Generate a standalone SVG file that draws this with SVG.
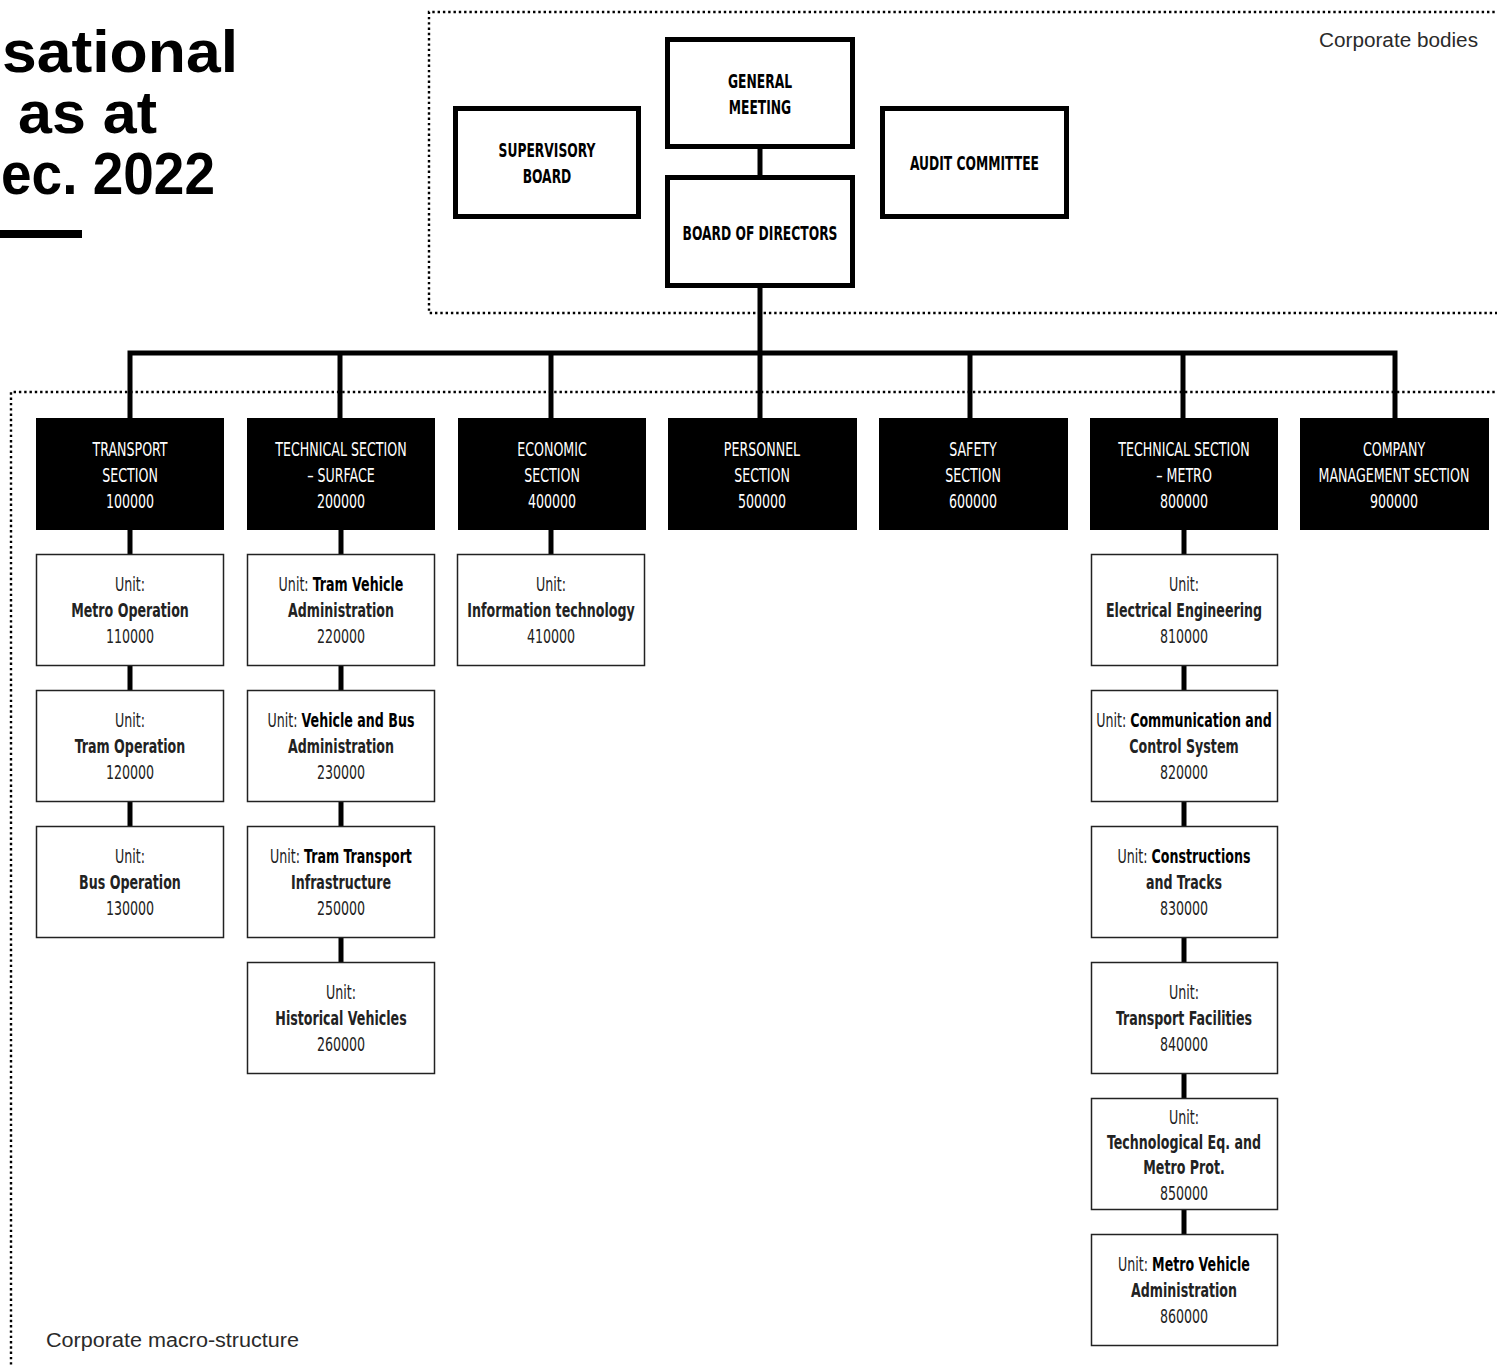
<svg xmlns="http://www.w3.org/2000/svg" width="1497" height="1365" viewBox="0 0 1497 1365">
<style>
  .dot { fill: none; stroke: #000; stroke-width: 2.4; stroke-dasharray: 2.4 2.9; }
  .body rect { fill: #fff; stroke: #000; stroke-width: 5; }
  .body text { font-family: "Liberation Sans Narrow", "DejaVu Sans Condensed", "Liberation Sans", sans-serif; font-weight: bold; font-size: 19px; fill: #000; text-anchor: middle; }
  .sec rect { fill: #000; }
  .sec text { font-family: "Liberation Sans Narrow", "DejaVu Sans Condensed", "Liberation Sans", sans-serif; font-size: 19px; fill: #fff; text-anchor: middle; }
  .unit rect { fill: #fff; stroke: #222; stroke-width: 1.5; }
  .unit text { font-family: "Liberation Sans Narrow", "DejaVu Sans Condensed", "Liberation Sans", sans-serif; font-size: 19px; fill: #222; text-anchor: middle; }
  .b { font-weight: bold; fill: #000; }
  .conn { fill: none; stroke: #000; stroke-width: 5; }
  .label { font-family: "Liberation Sans", sans-serif; font-size: 20px; fill: #2a2a2a; }
  .title { font-family: "Liberation Sans", sans-serif; font-weight: bold; font-size: 60px; fill: #000; }
</style>

<g id="title">
  <text class="title" x="2" y="72" textLength="236" lengthAdjust="spacingAndGlyphs">sational</text>
  <text class="title" x="18" y="133" textLength="139" lengthAdjust="spacingAndGlyphs">as at</text>
  <text class="title" x="1" y="194" textLength="214" lengthAdjust="spacingAndGlyphs">ec. 2022</text>
  <rect x="0" y="230" width="82" height="8" fill="#000"/>
</g>

<g id="areas">
  <path class="dot" d="M1500 12 H429 V313 H1500"/>
  <path class="dot" d="M1500 392 H11 V1370"/>
  <text class="label" x="1319" y="47" textLength="159" lengthAdjust="spacingAndGlyphs">Corporate bodies</text>
  <text class="label" x="46" y="1347" textLength="253" lengthAdjust="spacingAndGlyphs">Corporate macro-structure</text>
</g>

<g id="connectors">
  <path class="conn" d="M760 148 V175"/>
  <path class="conn" d="M760 288 V418"/>
  <path class="conn" d="M130 418 V353 H1395 V418"/>
  <path class="conn" d="M340 353 V418"/>
  <path class="conn" d="M551 353 V418"/>
  <path class="conn" d="M970 353 V418"/>
  <path class="conn" d="M1183 353 V418"/>
  <path class="conn" d="M130 530 V554 M130 666 V690 M130 802 V826"/>
  <path class="conn" d="M341 530 V554 M341 666 V690 M341 802 V826 M341 938 V962"/>
  <path class="conn" d="M551 530 V554"/>
  <path class="conn" d="M1184 530 V554 M1184 666 V690 M1184 802 V826 M1184 938 V962 M1184 1074 V1098 M1184 1210 V1234"/>
</g>

<g id="general-meeting" class="body">
  <rect x="667.5" y="39.5" width="185" height="107"/>
  <text transform="translate(760 88) scale(0.72 1)">GENERAL</text>
  <text transform="translate(760 114) scale(0.72 1)">MEETING</text>
</g>
<g id="supervisory-board" class="body">
  <rect x="455.5" y="108.5" width="183" height="108"/>
  <text transform="translate(547 157) scale(0.72 1)">SUPERVISORY</text>
  <text transform="translate(547 183) scale(0.72 1)">BOARD</text>
</g>
<g id="audit-committee" class="body">
  <rect x="882.5" y="108.5" width="184" height="108"/>
  <text transform="translate(974.5 170) scale(0.72 1)">AUDIT COMMITTEE</text>
</g>
<g id="board-of-directors" class="body">
  <rect x="667.5" y="177.5" width="185" height="108"/>
  <text transform="translate(760 240) scale(0.72 1)">BOARD OF DIRECTORS</text>
</g>

<g id="sec-transport" class="sec">
  <rect x="36" y="418" width="188" height="112"/>
  <text transform="translate(130 456) scale(0.74 1)">TRANSPORT</text>
  <text transform="translate(130 482) scale(0.74 1)">SECTION</text>
  <text transform="translate(130 508) scale(0.74 1)">100000</text>
</g>
<g id="sec-technical-surface" class="sec">
  <rect x="247" y="418" width="188" height="112"/>
  <text transform="translate(341 456) scale(0.74 1)">TECHNICAL SECTION</text>
  <text transform="translate(341 482) scale(0.74 1)">– SURFACE</text>
  <text transform="translate(341 508) scale(0.74 1)">200000</text>
</g>
<g id="sec-economic" class="sec">
  <rect x="458" y="418" width="188" height="112"/>
  <text transform="translate(552 456) scale(0.74 1)">ECONOMIC</text>
  <text transform="translate(552 482) scale(0.74 1)">SECTION</text>
  <text transform="translate(552 508) scale(0.74 1)">400000</text>
</g>
<g id="sec-personnel" class="sec">
  <rect x="668" y="418" width="189" height="112"/>
  <text transform="translate(762 456) scale(0.74 1)">PERSONNEL</text>
  <text transform="translate(762 482) scale(0.74 1)">SECTION</text>
  <text transform="translate(762 508) scale(0.74 1)">500000</text>
</g>
<g id="sec-safety" class="sec">
  <rect x="879" y="418" width="189" height="112"/>
  <text transform="translate(973 456) scale(0.74 1)">SAFETY</text>
  <text transform="translate(973 482) scale(0.74 1)">SECTION</text>
  <text transform="translate(973 508) scale(0.74 1)">600000</text>
</g>
<g id="sec-technical-metro" class="sec">
  <rect x="1090" y="418" width="188" height="112"/>
  <text transform="translate(1184 456) scale(0.74 1)">TECHNICAL SECTION</text>
  <text transform="translate(1184 482) scale(0.74 1)">– METRO</text>
  <text transform="translate(1184 508) scale(0.74 1)">800000</text>
</g>
<g id="sec-company-management" class="sec">
  <rect x="1300" y="418" width="189" height="112"/>
  <text transform="translate(1394 456) scale(0.74 1)">COMPANY</text>
  <text transform="translate(1394 482) scale(0.74 1)">MANAGEMENT SECTION</text>
  <text transform="translate(1394 508) scale(0.74 1)">900000</text>
</g>

<g id="unit-110000" class="unit">
  <rect x="36.5" y="554.5" width="187" height="111"/>
  <text transform="translate(130 591) scale(0.74 1)">Unit:</text>
  <text class="b" transform="translate(130 617) scale(0.74 1)">Metro Operation</text>
  <text transform="translate(130 643) scale(0.74 1)">110000</text>
</g>
<g id="unit-120000" class="unit">
  <rect x="36.5" y="690.5" width="187" height="111"/>
  <text transform="translate(130 727) scale(0.74 1)">Unit:</text>
  <text class="b" transform="translate(130 753) scale(0.74 1)">Tram Operation</text>
  <text transform="translate(130 779) scale(0.74 1)">120000</text>
</g>
<g id="unit-130000" class="unit">
  <rect x="36.5" y="826.5" width="187" height="111"/>
  <text transform="translate(130 863) scale(0.74 1)">Unit:</text>
  <text class="b" transform="translate(130 889) scale(0.74 1)">Bus Operation</text>
  <text transform="translate(130 915) scale(0.74 1)">130000</text>
</g>

<g id="unit-220000" class="unit">
  <rect x="247.5" y="554.5" width="187" height="111"/>
  <text transform="translate(341 591) scale(0.74 1)">Unit: <tspan class="b">Tram Vehicle</tspan></text>
  <text class="b" transform="translate(341 617) scale(0.74 1)">Administration</text>
  <text transform="translate(341 643) scale(0.74 1)">220000</text>
</g>
<g id="unit-230000" class="unit">
  <rect x="247.5" y="690.5" width="187" height="111"/>
  <text transform="translate(341 727) scale(0.74 1)">Unit: <tspan class="b">Vehicle and Bus</tspan></text>
  <text class="b" transform="translate(341 753) scale(0.74 1)">Administration</text>
  <text transform="translate(341 779) scale(0.74 1)">230000</text>
</g>
<g id="unit-250000" class="unit">
  <rect x="247.5" y="826.5" width="187" height="111"/>
  <text transform="translate(341 863) scale(0.74 1)">Unit: <tspan class="b">Tram Transport</tspan></text>
  <text class="b" transform="translate(341 889) scale(0.74 1)">Infrastructure</text>
  <text transform="translate(341 915) scale(0.74 1)">250000</text>
</g>
<g id="unit-260000" class="unit">
  <rect x="247.5" y="962.5" width="187" height="111"/>
  <text transform="translate(341 999) scale(0.74 1)">Unit:</text>
  <text class="b" transform="translate(341 1025) scale(0.74 1)">Historical Vehicles</text>
  <text transform="translate(341 1051) scale(0.74 1)">260000</text>
</g>

<g id="unit-410000" class="unit">
  <rect x="457.5" y="554.5" width="187" height="111"/>
  <text transform="translate(551 591) scale(0.74 1)">Unit:</text>
  <text class="b" transform="translate(551 617) scale(0.74 1)">Information technology</text>
  <text transform="translate(551 643) scale(0.74 1)">410000</text>
</g>

<g id="unit-810000" class="unit">
  <rect x="1091.5" y="554.5" width="186" height="111"/>
  <text transform="translate(1184 591) scale(0.74 1)">Unit:</text>
  <text class="b" transform="translate(1184 617) scale(0.74 1)">Electrical Engineering</text>
  <text transform="translate(1184 643) scale(0.74 1)">810000</text>
</g>
<g id="unit-820000" class="unit">
  <rect x="1091.5" y="690.5" width="186" height="111"/>
  <text transform="translate(1184 727) scale(0.74 1)">Unit: <tspan class="b">Communication and</tspan></text>
  <text class="b" transform="translate(1184 753) scale(0.74 1)">Control System</text>
  <text transform="translate(1184 779) scale(0.74 1)">820000</text>
</g>
<g id="unit-830000" class="unit">
  <rect x="1091.5" y="826.5" width="186" height="111"/>
  <text transform="translate(1184 863) scale(0.74 1)">Unit: <tspan class="b">Constructions</tspan></text>
  <text class="b" transform="translate(1184 889) scale(0.74 1)">and Tracks</text>
  <text transform="translate(1184 915) scale(0.74 1)">830000</text>
</g>
<g id="unit-840000" class="unit">
  <rect x="1091.5" y="962.5" width="186" height="111"/>
  <text transform="translate(1184 999) scale(0.74 1)">Unit:</text>
  <text class="b" transform="translate(1184 1025) scale(0.74 1)">Transport Facilities</text>
  <text transform="translate(1184 1051) scale(0.74 1)">840000</text>
</g>
<g id="unit-850000" class="unit">
  <rect x="1091.5" y="1098.5" width="186" height="111"/>
  <text transform="translate(1184 1124) scale(0.74 1)">Unit:</text>
  <text class="b" transform="translate(1184 1149) scale(0.74 1)">Technological Eq. and</text>
  <text class="b" transform="translate(1184 1174) scale(0.74 1)">Metro Prot.</text>
  <text transform="translate(1184 1200) scale(0.74 1)">850000</text>
</g>
<g id="unit-860000" class="unit">
  <rect x="1091.5" y="1234.5" width="186" height="111"/>
  <text transform="translate(1184 1271) scale(0.74 1)">Unit: <tspan class="b">Metro Vehicle</tspan></text>
  <text class="b" transform="translate(1184 1297) scale(0.74 1)">Administration</text>
  <text transform="translate(1184 1323) scale(0.74 1)">860000</text>
</g>
</svg>
